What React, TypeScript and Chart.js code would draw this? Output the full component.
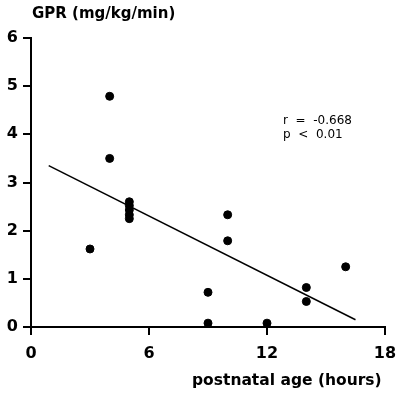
import React, { useEffect, useRef } from "react";
import { Chart, registerables } from "chart.js";

Chart.register(...registerables);

const ageHours = [4, 4, 3, 5, 5, 5, 5, 5, 9, 9, 10, 10, 12, 14, 14, 16];
const gprValues = [4.79, 3.5, 1.62, 2.6, 2.52, 2.43, 2.33, 2.25, 0.72, 0.08, 2.33, 1.79, 0.08, 0.82, 0.53, 1.25];
const fitX = [0.9, 16.5];
const fitY = [3.35, 0.15];
const xTicks = [0, 6, 12, 18];
const yTicks = [0, 1, 2, 3, 4, 5, 6];
const yTitle = "GPR (mg/kg/min)";
const xTitle = "postnatal age (hours)";
const statLines = ["r  =  -0.668", "p  <  0.01"];

const FONT = "'DejaVu Sans', sans-serif";

export default function App() {
  const ref = useRef<HTMLCanvasElement | null>(null);
  useEffect(() => {
    document.body.style.margin = "0";
    const textPlugin = {
      id: "texts",
      afterDraw(chart: any) {
        const ctx = chart.ctx;
        ctx.save();
        ctx.fillStyle = "#000";
        ctx.textBaseline = "middle";
        ctx.textAlign = "left";
        ctx.font = `bold 15px ${FONT}`;
        ctx.fillText(yTitle, 32, 14);
        ctx.font = `bold 15.5px ${FONT}`;
        ctx.fillText(xTitle, 192, 381);
        ctx.font = `12px ${FONT}`;
        ctx.fillText(statLines[0], 283, 121);
        ctx.fillText(statLines[1], 283, 135);
        ctx.restore();
      },
    };
    const chart = new Chart(ref.current!, {
      type: "scatter",
      data: {
        datasets: [
          {
            data: ageHours.map((x, i) => ({ x, y: gprValues[i] })),
            backgroundColor: "#000",
            borderColor: "#000",
            pointRadius: 4,
            showLine: false,
          },
          {
            data: fitX.map((x, i) => ({ x, y: fitY[i] })),
            borderColor: "#000",
            borderWidth: 1.5,
            pointRadius: 0,
            showLine: true,
          },
        ],
      },
      plugins: [textPlugin],
      options: {
        animation: false,
        responsive: false,
        layout: { padding: { top: 38, right: 12, left: 0, bottom: 0 } },
        plugins: { legend: { display: false }, tooltip: { enabled: false } },
        scales: {
          x: {
            type: "linear",
            min: 0,
            max: 18,
            afterBuildTicks: (s: any) => {
              s.ticks = xTicks.map((v) => ({ value: v }));
            },
            afterFit: (s: any) => {
              s.height = 71;
              s.paddingLeft = 0;
              s.paddingRight = 0;
            },
            ticks: { color: "#000", font: { family: FONT, size: 16, weight: "bold" }, padding: 9, maxRotation: 0 },
            grid: { drawOnChartArea: false, drawTicks: true, tickLength: 8, color: "#000", lineWidth: 2 },
            border: { color: "#000", width: 2 },
          },
          y: {
            type: "linear",
            min: 0,
            max: 6,
            afterBuildTicks: (s: any) => {
              s.ticks = yTicks.map((v) => ({ value: v }));
            },
            afterFit: (s: any) => {
              s.width = 31;
              s.paddingTop = 0;
              s.paddingBottom = 0;
            },
            ticks: { color: "#000", font: { family: FONT, size: 16, weight: "bold" }, padding: 5 },
            grid: { drawOnChartArea: false, drawTicks: true, tickLength: 8, color: "#000", lineWidth: 2 },
            border: { color: "#000", width: 2 },
          },
        },
      },
    } as any);
    return () => chart.destroy();
  }, []);
  return (
    <div style={{ position: "absolute", left: 0, top: 0, width: 397, height: 398, background: "#fff" }}>
      <canvas ref={ref} width={397} height={398} style={{ width: 397, height: 398 }} />
    </div>
  );
}
